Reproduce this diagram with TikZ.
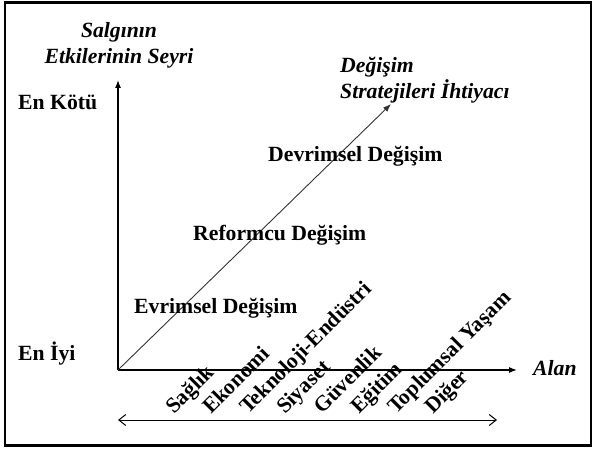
\documentclass[tikz,border=0pt]{standalone}
\usepackage{fontspec}
\setmainfont{Liberation Serif}
\usetikzlibrary{arrows.meta,positioning}

\begin{document}
\begin{tikzpicture}[>={Latex[length=8pt,width=6pt]}, x=1pt, y=-1pt]
        \tikzstyle{lbl}=[inner sep=0pt, font=\fontsize{21.7}{26}\selectfont\bfseries]
        \tikzstyle{ilbl}=[inner sep=0pt, font=\fontsize{21.7}{26}\selectfont\bfseries\itshape]
        \tikzstyle{axis}=[->, line width=1.2pt]
        \useasboundingbox (0,0) rectangle (596,449);

        % Frame
        \draw[line width=2.5pt] (5,2.5) rectangle (591,445.5);

        % Axes
        \coordinate (o) at (118,370);
        \coordinate (ytop) at (118,80);
        \coordinate (xend) at (517,370);
        \coordinate (dend) at (391,104);
        \draw[axis] (o) -- (ytop);
        \draw[axis] (o) -- (xend);
        \draw[->, line width=0.9pt, black!80] (o) -- (dend);

        % Axis labels
        \node (sal)[ilbl, align=center] at (119,45) {Salgının\\Etkilerinin Seyri};
        \node (kotu)[lbl, anchor=base west] at (18,110) {En Kötü};
        \node (iyi)[lbl, anchor=base west] at (18,360) {En İyi};
        \node (alan)[ilbl, anchor=base west] at (533,375) {Alan};
        \node (ihtiyac)[ilbl, align=left, anchor=west] at (340,80) {Değişim\\Stratejileri İhtiyacı};

        % Change types
        \node (evr)[lbl, anchor=base west] at (134,313) {Evrimsel Değişim};
        \node (ref)[lbl, anchor=base west] at (193,240) {Reformcu Değişim};
        \node (dev)[lbl, anchor=base west] at (268,161) {Devrimsel Değişim};

        % Fields
        \foreach \lbl [count=\i from 0] in {Sağlık, Ekonomi, Teknoloji-Endüstri, Siyaset, Güvenlik, Eğitim, Toplumsal Yaşam, Diğer}
            \node (f\i)[lbl, rotate=45, anchor=base west] at (174+37*\i,415) {\lbl};

        % --- Bottom double arrow ---
        \coordinate (bl) at (118,420);
        \coordinate (br) at (497,420);
        \draw[{Straight Barb[length=7pt,width=11pt]}-{Straight Barb[length=7pt,width=11pt]}, line width=1pt] (bl) -- (br);
\end{tikzpicture}
\end{document}
